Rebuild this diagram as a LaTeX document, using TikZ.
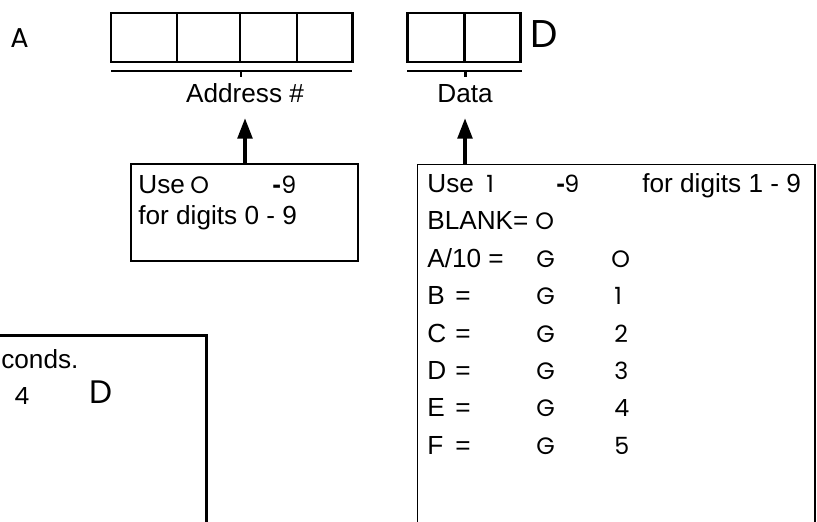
\documentclass[tikz,border=0pt]{standalone}
\usepackage{fontspec}
\setmainfont{Liberation Sans}
\newfontfamily\glyphfont{Poppins}
\usetikzlibrary{arrows.meta}
\tikzset{
  txt/.style={font=\fontsize{14.9}{17}\selectfont, inner sep=0pt, anchor=base west},
  glyph/.style={font=\glyphfont\fontsize{13.5}{15}\selectfont, inner sep=0pt, anchor=base west},
  midglyph/.style={glyph, font=\glyphfont\fontsize{18.5}{20}\selectfont},
  bigglyph/.style={glyph, font=\glyphfont\fontsize{22}{24}\selectfont},
  cellline/.style={line width=1.7pt},
  notebox/.style={rectangle, draw, line width=0.6pt, inner sep=0pt},
  heavybox/.style={rectangle, draw, line width=1.7pt, inner sep=0pt},
  uparr/.style={-{Triangle[length=12pt, width=8pt]}, line width=2.8pt},
}

\begin{document}
\begin{tikzpicture}[x=0.02cm, y=-0.02cm]
  \useasboundingbox (0,0) rectangle (817,521);
  \clip (0,0) rectangle (817,521);
  % address cells
  \draw[cellline] (111,13) rectangle (352,62);
  \draw[cellline] (177,13) -- (177,62) (240,13) -- (240,62) (297,13) -- (297,62);
  \draw[cellline] (111,71) -- (352,71) (241,71) -- (241,77);
  % data cells
  \draw[cellline] (407,13) rectangle (520,62);
  \draw[cellline] (464,13) -- (464,62);
  \draw[cellline] (407,71) -- (522,71) (465,71) -- (465,77);
  % letters and labels
  \node[glyph, font=\glyphfont\fontsize{15.5}{17}\selectfont] (la) at (10,47) {A};
  \node[bigglyph] (ld) at (530,47) {D};
  \node[txt, anchor=base] (addrlbl) at (245,102) {Address \#};
  \node[txt, anchor=base] (datalbl) at (465,102) {Data};
  % boxes
  \node[notebox, minimum width=4.54cm, minimum height=1.94cm] (addrnote) at (244.5,212.5) {};
  \node[notebox, minimum width=7.96cm, minimum height=7.9cm] (datanote) at (616,362) {};
  \node[heavybox, minimum width=4.74cm, minimum height=4.5cm] (timebox) at (88.5,447.5) {};
  % arrows
  \draw[uparr] (addrnote.north -| addrlbl.south) -- ([yshift=-8.5pt]addrlbl.south);
  \draw[uparr] (datanote.north -| datalbl.south) -- ([yshift=-8.5pt]datalbl.south);
  % address note
  \node[txt]   (use0)   at (138,193) {Use};
  \node[glyph] (zero0)  at (190,193) {O};
  \node[txt]   (dash0)  at (272,193) {\textbf{-}};
  \node[glyph] (nine0)  at (281,193) {9};
  \node[txt]   (range0) at (138,224) {for digits 0 - 9};
  % data note
  \node[txt]   (use1)   at (427,192) {Use};
  \node[glyph] (one1)   at (486,192) {1};
  \node[txt]   (dash1)  at (556,192) {\textbf{-}};
  \node[glyph] (nine1)  at (564,192) {9};
  \node[txt]   (range1) at (642,192) {for digits 1 - 9};
  \node[txt]   (blank)  at (427,229) {BLANK=};
  \node[glyph] (blanko) at (535,229) {O};
  \node[txt]   (ten)    at (427,267) {A/10 =};
  \node[glyph] (teng)   at (536,267) {G};
  \node[glyph] (teno)   at (611,267) {O};
  \node[txt]   (bl)     at (427,304) {B};
  \node[txt]   (beq)    at (455,304) {=};
  \node[glyph] (bg)     at (536,304) {G};
  \node[glyph] (bd)     at (614,304) {1};
  \node[txt]   (cl)     at (427,342) {C};
  \node[txt]   (ceq)    at (455,342) {=};
  \node[glyph] (cg)     at (536,342) {G};
  \node[glyph] (cd)     at (614,342) {2};
  \node[txt]   (dl)     at (427,379) {D};
  \node[txt]   (deq)    at (455,379) {=};
  \node[glyph] (dg)     at (536,379) {G};
  \node[glyph] (dd)     at (614,379) {3};
  \node[txt]   (el)     at (427,416) {E};
  \node[txt]   (eeq)    at (455,416) {=};
  \node[glyph] (eg)     at (536,416) {G};
  \node[glyph] (ed)     at (614,416) {4};
  \node[txt]   (fl)     at (427,454) {F};
  \node[txt]   (feq)    at (455,454) {=};
  \node[glyph] (fg)     at (536,454) {G};
  \node[glyph] (fd)     at (614,454) {5};
  % lower left box
  \node[txt]      (secs) at (1,368)  {conds.};
  \node[glyph]    (four) at (14,404) {4};
  \node[midglyph] (ld2)  at (89,403) {D};
\end{tikzpicture}
\end{document}
